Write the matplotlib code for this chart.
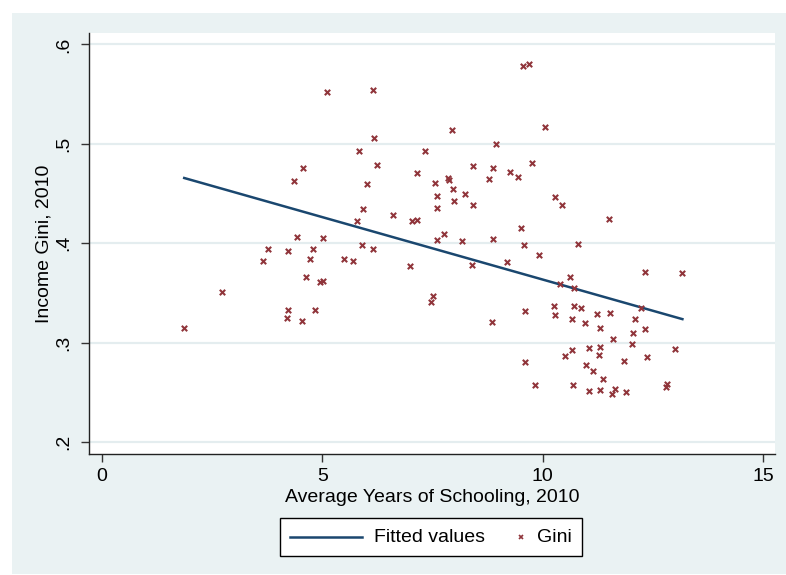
import matplotlib
matplotlib.use("Agg")
import matplotlib.pyplot as plt
from matplotlib.lines import Line2D
from matplotlib.patches import Rectangle
import numpy as np

# ---- data ----
schooling = [5.10, 4.565, 4.36, 9.55, 9.68, 6.16, 10.05, 7.94, 6.18, 8.94,
             5.84, 7.32, 6.24, 8.42, 8.87, 9.76, 7.14, 9.27, 8.78, 9.44,
             7.85, 7.88, 6.01, 7.56, 7.97, 8.24, 7.60, 7.98, 8.43, 5.93,
             10.29, 10.44, 7.60, 6.60, 5.80, 7.04, 7.14, 9.50, 11.51, 4.43,
             5.01, 3.77, 4.22, 4.80, 3.66, 4.72, 4.64, 4.95, 5.01, 2.73,
             4.22, 4.84, 4.19, 4.53, 1.87, 5.90, 6.15, 5.49, 5.69, 7.00,
             7.60, 7.76, 8.16, 8.87, 9.58, 9.92, 8.40, 9.19, 10.63, 10.39,
             10.72, 7.51, 7.47, 9.61, 10.26, 10.29, 10.70, 10.66, 8.86, 10.67,
             10.51, 9.60, 9.83, 10.69, 10.80, 12.31, 13.17, 10.88, 10.97, 11.23,
             11.53, 12.23, 12.10, 12.31, 11.31, 12.04, 11.59, 12.02, 11.06, 11.31,
             11.28, 13.01, 10.99, 11.14, 11.84, 12.36, 11.37, 11.05, 11.29, 11.63,
             11.58, 11.88, 12.81, 12.80]
gini = [0.5524, 0.4757, 0.4626, 0.5783, 0.5803, 0.5541, 0.5172, 0.5139, 0.5058, 0.4998,
        0.4928, 0.4931, 0.4787, 0.4780, 0.4757, 0.4810, 0.4709, 0.4713, 0.4643, 0.4663,
        0.4659, 0.4636, 0.4593, 0.4603, 0.4542, 0.4498, 0.4478, 0.4425, 0.4384, 0.4344,
        0.4462, 0.4387, 0.4357, 0.4287, 0.4223, 0.4226, 0.4233, 0.4156, 0.4240, 0.4062,
        0.4049, 0.3945, 0.3922, 0.3938, 0.3818, 0.3838, 0.3663, 0.3613, 0.3623, 0.3509,
        0.3328, 0.3328, 0.3251, 0.3221, 0.3144, 0.3982, 0.3945, 0.3841, 0.3818, 0.3774,
        0.4035, 0.4096, 0.4019, 0.4045, 0.3982, 0.3881, 0.3784, 0.3814, 0.3663, 0.3587,
        0.3552, 0.3466, 0.3408, 0.3315, 0.3371, 0.3281, 0.3365, 0.3240, 0.3204, 0.2929,
        0.2862, 0.2802, 0.2573, 0.2577, 0.3989, 0.3707, 0.3697, 0.3348, 0.3197, 0.3291,
        0.3295, 0.3351, 0.3234, 0.3140, 0.3150, 0.3097, 0.3033, 0.2986, 0.2943, 0.2959,
        0.2875, 0.2936, 0.2772, 0.2714, 0.2815, 0.2858, 0.2631, 0.2513, 0.2526, 0.2533,
        0.2486, 0.2506, 0.2583, 0.2556]
fit_x = [1.87, 13.17]
fit_y = [0.4656, 0.3236]
x_ticks = [0, 5, 10, 15]
y_ticks = [0.2, 0.3, 0.4, 0.5, 0.6]
y_tick_labels = [".2", ".3", ".4", ".5", ".6"]
legend_labels = ["Fitted values", "Gini"]

plt.rcParams["font.family"] = ["Liberation Sans", "DejaVu Sans"]

BG = "#EAF2F3"
GRID = "#E4EDEF"
NAVY = "#1A476F"
MAROON = "#90353B"
FS = 14

W, H = 786, 575
fig = plt.figure(figsize=(W / 100, H / 100), dpi=100, facecolor="white")

def fx(px):
    return px / W

def fy(py):
    return 1 - py / H

# graph region
fig.add_artist(Rectangle((fx(12), fy(574)), (W - 12) / W, (574 - 13) / H,
                         transform=fig.transFigure, facecolor=BG,
                         edgecolor="none", zorder=-10))

left, right, top, bottom = 89, 775, 33, 454.3
ax = fig.add_axes([fx(left), fy(bottom), (right - left) / W, (bottom - top) / H])
ax.set_zorder(1)
ax.set_facecolor("white")

ax.set_xlim(-0.29, 15.27)
ax.set_ylim(0.1876, 0.6115)

ax.set_yticks(y_ticks)
ax.set_yticklabels(y_tick_labels, rotation=90, va="center")
ax.set_xticks(x_ticks)
ax.tick_params(axis="both", length=6, width=1, color="#333333", labelsize=FS,
               labelcolor="black", direction="out", pad=4)
ax.tick_params(axis="y", pad=6)
ax.grid(axis="y", color=GRID, linewidth=1.6, zorder=0)
ax.set_axisbelow(True)

for s in ["top", "right"]:
    ax.spines[s].set_visible(False)
for s in ["left", "bottom"]:
    ax.spines[s].set_color("#222222")
    ax.spines[s].set_linewidth(1.0)

ax.plot(fit_x, fit_y, color=NAVY, linewidth=1.8, zorder=3)
ax.scatter(schooling, gini, marker="x", s=15, linewidths=1.5, color=MAROON, zorder=4)

ax.set_xlabel("Average Years of Schooling, 2010", fontsize=FS, labelpad=3)
ax.set_ylabel("Income Gini, 2010", fontsize=FS, labelpad=2)

# legend (drawn in figure pixel coords to match Stata's layout)
fig.add_artist(Rectangle((fx(280), fy(556)), (582 - 280) / W, (556 - 518) / H,
                         transform=fig.transFigure, facecolor="white",
                         edgecolor="black", linewidth=1.0, zorder=5))
fig.add_artist(Line2D([fx(290), fx(362)], [fy(537), fy(537)], transform=fig.transFigure,
                      color=NAVY, linewidth=1.8, zorder=6))
fig.text(fx(374), fy(537.5), legend_labels[0], fontsize=FS, ha="left", va="center", zorder=6)
fig.add_artist(Line2D([fx(521)], [fy(537)], transform=fig.transFigure, marker="x",
                      linestyle="none", color=MAROON, markersize=3,
                      markeredgewidth=1.2, zorder=6))
fig.text(fx(537), fy(537.5), legend_labels[1], fontsize=FS, ha="left", va="center", zorder=6)

fig.savefig("out.png", dpi=100, facecolor="white")
